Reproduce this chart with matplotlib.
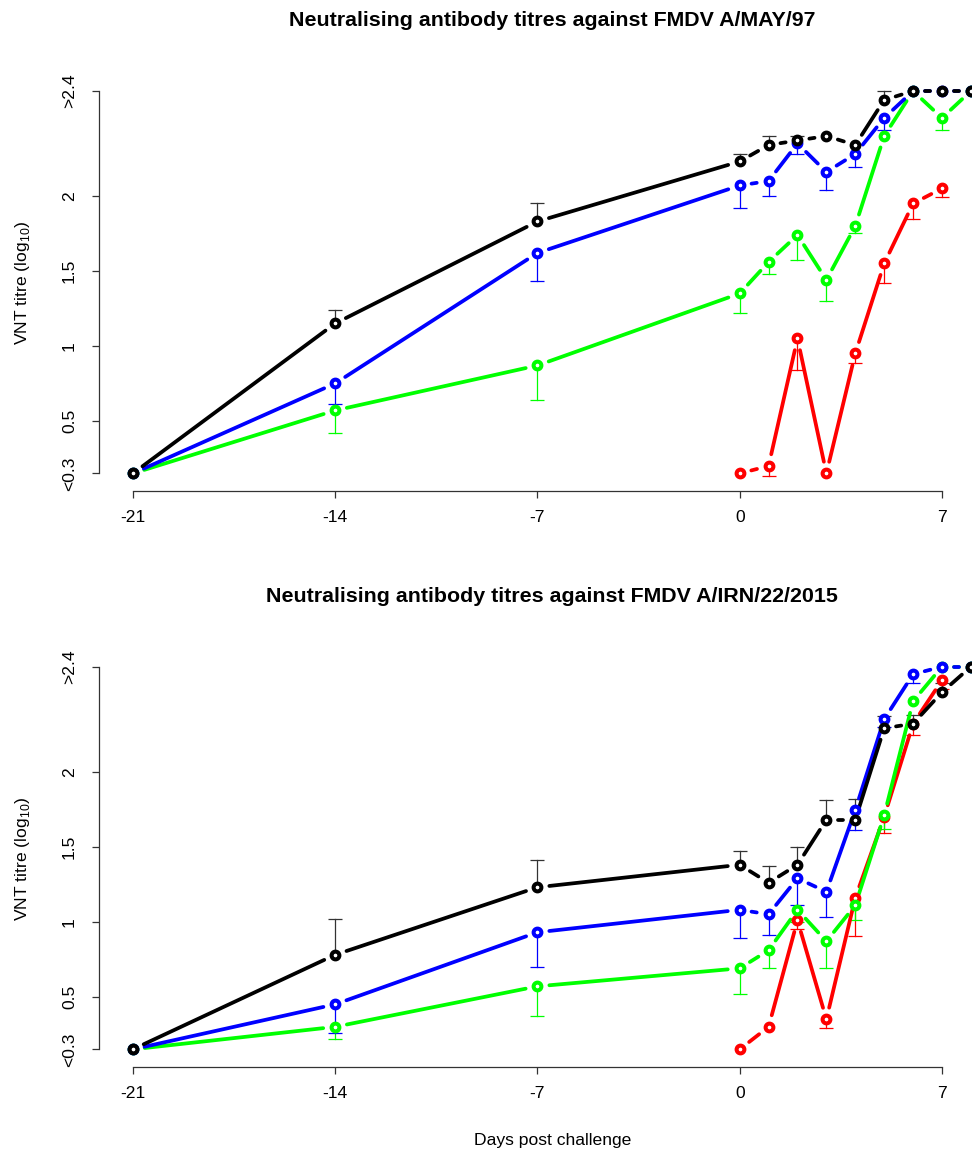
import matplotlib.pyplot as plt
import numpy as np

plt.rcParams['font.family'] = ['Liberation Sans', 'DejaVu Sans']
plt.rcParams['mathtext.fontset'] = 'custom'
plt.rcParams['mathtext.rm'] = 'Liberation Sans'

nan = np.nan
# days post challenge (day 8 sits past the cropped right edge)
days = [-21, -14, -7, 0, 1, 2, 3, 4, 5, 6, 7, 8]
red_days = [0, 1, 2, 3, 4, 5, 6, 7]

# log10 VNT titres, <0.3 plotted at 0.15 and >2.4 plotted at 2.7
# --- A/MAY/97 ---
may_black = [0.15, 1.15, 1.83, 2.23, 2.34, 2.37, 2.40, 2.34, 2.64, 2.70, 2.70, 2.70]
may_black_err = [nan, 1.24, 1.95, 2.28, 2.40, 2.40, nan, nan, 2.70, nan, nan, nan]
may_blue = [0.15, 0.75, 1.62, 2.07, 2.10, 2.35, 2.16, 2.28, 2.52, 2.70, 2.70, 2.70]
may_blue_err = [nan, 0.61, 1.43, 1.92, 2.00, 2.28, 2.04, 2.19, 2.44, nan, nan, nan]
may_green = [0.15, 0.57, 0.87, 1.35, 1.56, 1.74, 1.44, 1.80, 2.40, 2.70, 2.52, 2.70]
may_green_err = [nan, 0.42, 0.64, 1.22, 1.48, 1.57, 1.30, 1.755, nan, nan, 2.44, nan]
may_red = [0.15, 0.20, 1.05, 0.15, 0.95, 1.55, 1.95, 2.05]
may_red_err = [nan, 0.135, 0.84, nan, 0.885, 1.42, 1.845, 1.99]

# --- A/IRN/22/2015 ---
irn_black = [0.15, 0.78, 1.23, 1.38, 1.26, 1.38, 1.68, 1.68, 2.29, 2.32, 2.53, 2.70]
irn_black_err = [nan, 1.02, 1.41, 1.47, 1.37, 1.50, 1.81, 1.82, 2.37, 2.38, 2.59, nan]
irn_blue = [0.15, 0.45, 0.93, 1.08, 1.05, 1.29, 1.20, 1.745, 2.35, 2.65, 2.70, 2.70]
irn_blue_err = [nan, 0.26, 0.70, 0.89, 0.91, 1.11, 1.03, 1.61, 2.30, 2.59, nan, nan]
irn_green = [0.15, 0.30, 0.57, 0.69, 0.81, 1.08, 0.87, 1.11, 1.71, 2.47, 2.70, 2.70]
irn_green_err = [nan, 0.22, 0.37, 0.52, 0.69, 1.00, 0.69, 1.01, 1.62, nan, nan, nan]
irn_red = [0.15, 0.30, 1.01, 0.35, 1.16, 1.70, 2.32, 2.61]
irn_red_err = [nan, nan, 0.955, 0.29, 0.905, 1.59, 2.245, 2.55]

xticks = [-21, -14, -7, 0, 7]
yticks = [0.15, 0.5, 1, 1.5, 2, 2.7]
ytick_labels = ['<0.3', '0.5', '1', '1.5', '2', '>2.4']

titles = ['Neutralising antibody titres against FMDV A/MAY/97',
          'Neutralising antibody titres against FMDV A/IRN/22/2015']

panels = [
    [('red', red_days, may_red, may_red_err),
     ('#00ff00', days, may_green, may_green_err),
     ('blue', days, may_blue, may_blue_err),
     ('black', days, may_black, may_black_err)],
    [('red', red_days, irn_red, irn_red_err),
     ('#00ff00', days, irn_green, irn_green_err),
     ('blue', days, irn_blue, irn_blue_err),
     ('black', days, irn_black, irn_black_err)],
]

W, H = 972, 1153
fig = plt.figure(figsize=(W / 100, H / 100), dpi=100)

GAP = 12  # pixels left open around each point, like R type="b"


def gapped_line(ax, x, y, color):
    x = np.asarray(x, float)
    y = np.asarray(y, float)
    pts = ax.transData.transform(np.column_stack([x, y]))
    inv = ax.transData.inverted()
    for i in range(len(x) - 1):
        p0, p1 = pts[i], pts[i + 1]
        d = p1 - p0
        L = np.hypot(*d)
        if L <= 2 * GAP:
            continue
        u = d / L
        a, b = inv.transform([p0 + u * GAP, p1 - u * GAP])
        ax.plot([a[0], b[0]], [a[1], b[1]], color=color, lw=2.7,
                solid_capstyle='round', clip_on=False, zorder=2)


# axes placement in pixels (top edge, bottom edge)
left_px, right_px = 99.3, 1004.4
rows = [(76.0, 490.7), (651.7, 1066.6)]
tops_title = [20, 597]

for k, (top_px, bot_px) in enumerate(rows):
    ax = fig.add_axes([left_px / W, (H - bot_px) / H,
                       (right_px - left_px) / W, (bot_px - top_px) / H])
    ax.set_xlim(-22.16, 9.16)
    ax.set_ylim(0.035, 2.80)
    ax.set_facecolor('none')

    for color, xs, ys, err in panels[k]:
        gapped_line(ax, xs, ys, color)
        ecol = '#333333' if color == 'black' else color
        for xi, yi, ei in zip(xs, ys, err):
            if np.isnan(ei):
                continue
            ax.plot([xi, xi], [yi, ei], color=ecol, lw=0.9, zorder=1.5, clip_on=False)
            ax.plot([xi], [ei], marker='_', ms=9.5, mew=0.9, color=ecol,
                    zorder=1.5, clip_on=False)
        ax.plot(xs, ys, ls='none', marker='o', ms=5.6, mew=2.9, mec=color,
                mfc='white', zorder=3, clip_on=False)

    for s in ['top', 'right']:
        ax.spines[s].set_visible(False)
    ax.spines['left'].set_bounds(0.15, 2.7)
    ax.spines['bottom'].set_bounds(-21, 7)
    for s in ['left', 'bottom']:
        ax.spines[s].set_color('#333333')
        ax.spines[s].set_linewidth(0.9)
    ax.set_xticks(xticks)
    ax.set_xticklabels([str(t) for t in xticks])
    ax.set_yticks(yticks)
    ax.set_yticklabels(ytick_labels, rotation=90, va='center')
    ax.tick_params(axis='both', length=5, width=0.9, color='#333333',
                   labelsize=12.6)
    ax.tick_params(axis='x', pad=9)
    ax.tick_params(axis='y', pad=11)

    fig.text(552 / W, 1 - tops_title[k] / H, titles[k], ha='center',
             va='center', fontsize=15.4, fontweight='bold')
    fig.text(22 / W, 1 - (top_px + bot_px) / 2 / H, r'VNT titre (log$_{10}$)',
             rotation=90, ha='center', va='center', fontsize=12.6)

fig.text(553 / W, 1 - 1141 / H, 'Days post challenge', ha='center',
         va='center', fontsize=12.6)

fig.savefig('out.png', dpi=100)
